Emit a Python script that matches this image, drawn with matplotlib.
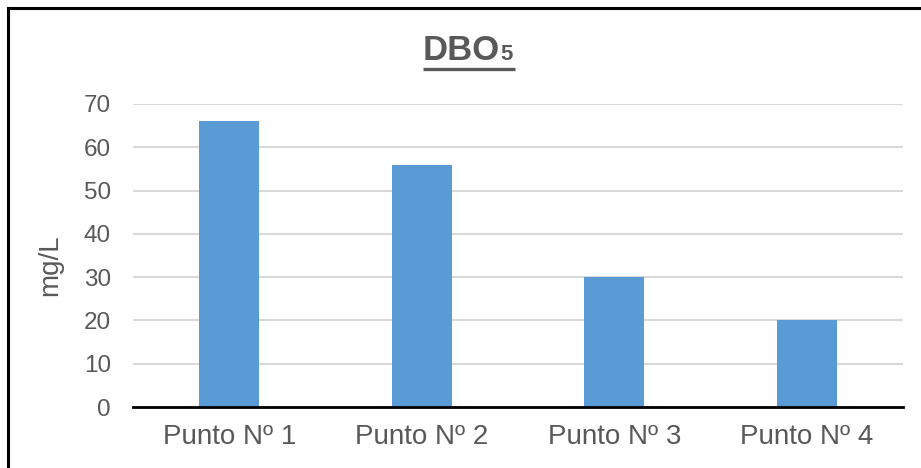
import matplotlib
matplotlib.use("Agg")
import matplotlib.pyplot as plt
from matplotlib.lines import Line2D

plt.rcParams['font.family'] = ['Liberation Sans', 'DejaVu Sans']

categories = ["Punto Nº 1", "Punto Nº 2", "Punto Nº 3", "Punto Nº 4"]
values = [66, 56, 30, 20]
yticks = [0, 10, 20, 30, 40, 50, 60, 70]

W, H = 921, 468
fig = plt.figure(figsize=(W / 100, H / 100), dpi=100)
fig.patch.set_facecolor("white")

TEXT = "#595959"
BAR = "#5B9BD5"
GRID = "#D9D9D9"

ax = fig.add_axes([133 / W, (H - 407) / H, 770 / W, 303 / H])
x = list(range(len(categories)))
ax.bar(x, values, width=0.31, color=BAR, zorder=2)
ax.set_xlim(-0.5, len(categories) - 0.5)
ax.set_ylim(0, 70)
ax.set_yticks(yticks)
ax.set_xticks(x)
ax.set_xticklabels(categories, fontsize=20, color=TEXT)
ax.tick_params(axis="y", labelsize=17.5, labelcolor=TEXT, length=0, pad=16)
ax.tick_params(axis="x", length=0, pad=12)
ax.yaxis.grid(True, color=GRID, linewidth=1.5, zorder=0)
for side in ("top", "right", "left"):
    ax.spines[side].set_visible(False)
ax.spines["bottom"].set_color("black")
ax.spines["bottom"].set_linewidth(2)
ax.spines["bottom"].set_zorder(3)
ax.set_ylabel("mg/L", fontsize=20, color=TEXT)
ax.yaxis.set_label_coords(-(133 - 50) / 770, (407 - 265) / 303)
ax.yaxis.label.set_va("center")

# Title: bold "DBO" with a small "5", underlined
t1 = fig.text(423 / W, 1 - 60 / H, "DBO", fontsize=25, fontweight="bold",
              color=TEXT, ha="left", va="baseline")
fig.canvas.draw()
r = fig.canvas.get_renderer()
bb = t1.get_window_extent(r)
t2 = fig.text((bb.x1 + 0.5) / W, 1 - 60 / H, "5", fontsize=16, fontweight="bold",
              color=TEXT, ha="left", va="baseline")
fig.canvas.draw()
bb2 = t2.get_window_extent(r)
fig.add_artist(Line2D([bb.x0 / W, (bb2.x1 + 2) / W], [1 - 68.5 / H, 1 - 68.5 / H],
                      transform=fig.transFigure, color=TEXT, linewidth=2.4,
                      solid_capstyle="butt"))

# Frame around the chart (left and top edges)
fig.add_artist(Line2D([8 / W, 8 / W], [0, 1 - 8 / H], transform=fig.transFigure,
                      color="black", linewidth=2.2, solid_capstyle="projecting"))
fig.add_artist(Line2D([8 / W, 1], [1 - 8 / H, 1 - 8 / H], transform=fig.transFigure,
                      color="black", linewidth=2.2, solid_capstyle="projecting"))

fig.savefig("out.png", dpi=100, facecolor="white")
